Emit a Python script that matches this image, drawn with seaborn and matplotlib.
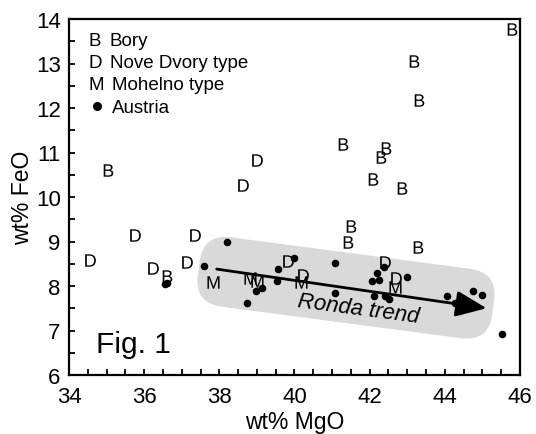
import numpy as np
import pandas as pd
import matplotlib
matplotlib.use('Agg')
import matplotlib.pyplot as plt
import matplotlib.transforms as mtransforms
from matplotlib.patches import FancyBboxPatch
from matplotlib.ticker import MultipleLocator
import seaborn as sns

# Bory (B)
bory_mgo = [45.78, 43.18, 43.31, 41.28, 42.44, 42.30, 42.08, 42.86, 35.04, 36.60, 41.50, 41.42, 43.28]
bory_feo = [13.78, 13.06, 12.18, 11.19, 11.10, 10.90, 10.40, 10.20, 10.60, 8.23, 9.35, 8.98, 8.87]

# Nove Dvory type (D)
dvory_mgo = [38.99, 38.64, 35.76, 37.35, 34.56, 36.24, 37.15, 39.82, 40.23, 42.41, 42.70]
dvory_feo = [10.84, 10.27, 9.15, 9.15, 8.59, 8.40, 8.53, 8.57, 8.25, 8.53, 8.17]

# Mohelno type (M)
mohelno_mgo = [37.84, 38.82, 38.99, 40.17, 42.67]
mohelno_feo = [8.08, 8.17, 8.12, 8.08, 7.97]

# Austria (dots)
austria_mgo = [38.20, 37.59, 39.55, 39.99, 39.53, 39.14, 38.97, 38.73, 36.55, 36.60,
               41.08, 41.08, 42.19, 42.38, 42.05, 42.26, 42.12, 42.41, 42.52, 43.00,
               44.05, 44.27, 44.52, 44.74, 44.98, 45.51]
austria_feo = [9.00, 8.44, 8.38, 8.62, 8.12, 7.95, 7.88, 7.61, 8.04, 8.07,
               8.51, 7.84, 8.29, 8.42, 8.12, 8.13, 7.77, 7.77, 7.71, 8.21,
               7.77, 7.61, 7.71, 7.89, 7.80, 6.92]

# Ronda trend arrow (start, end) and band centre
trend_mgo = [37.93, 45.11]
trend_feo = [8.38, 7.50]
band_center = (41.37, 7.96)

sns.set_theme(style='white')
plt.rcParams['font.family'] = ['Liberation Sans', 'DejaVu Sans']
plt.rcParams['mathtext.fontset'] = 'custom'
plt.rcParams['mathtext.rm'] = 'Liberation Sans'
plt.rcParams['text.color'] = 'black'
plt.rcParams['axes.labelcolor'] = 'black'
plt.rcParams['xtick.color'] = 'black'
plt.rcParams['ytick.color'] = 'black'

fig = plt.figure(figsize=(5.36, 4.35), dpi=100)
ax = fig.add_axes([69 / 536, 1 - 376 / 435, 451 / 536, 356 / 435])
ax.set_xlim(34, 46)
ax.set_ylim(6, 14)

# grey band behind the trend (rounded box, sized in pixels, rotated)
cx, cy = band_center
band_w, band_h = 297, 70
band = FancyBboxPatch((-band_w / 2, -band_h / 2), band_w, band_h,
                      boxstyle='round,pad=0,rounding_size=28',
                      facecolor='#d9d9d9', edgecolor='none', zorder=0)
band.set_transform(mtransforms.Affine2D().rotate_deg(-7.5)
                   + mtransforms.ScaledTranslation(cx, cy, ax.transData))
ax.add_patch(band)

frames = [
    pd.DataFrame({'MgO': bory_mgo, 'FeO': bory_feo}),
    pd.DataFrame({'MgO': dvory_mgo, 'FeO': dvory_feo}),
    pd.DataFrame({'MgO': mohelno_mgo, 'FeO': mohelno_feo}),
]
for df, mk in zip(frames, [r'$\mathrm{B}$', r'$\mathrm{D}$', r'$\mathrm{M}$']):
    sns.scatterplot(data=df, x='MgO', y='FeO', marker=mk, s=80, color='black',
                    linewidth=0, ax=ax, zorder=3)

austria = pd.DataFrame({'MgO': austria_mgo, 'FeO': austria_feo})
sns.scatterplot(data=austria, x='MgO', y='FeO', marker='o', s=30, color='black',
                linewidth=0, ax=ax, zorder=4)

# trend arrow
ax.annotate('', xy=(trend_mgo[1], trend_feo[1]), xytext=(trend_mgo[0], trend_feo[0]),
            arrowprops=dict(arrowstyle='-|>,head_length=0.95,head_width=0.4',
                            mutation_scale=20, lw=2, color='black',
                            shrinkA=0, shrinkB=0), zorder=5)
ax.text(41.69, 7.49, 'Ronda trend', fontsize=16, style='italic', rotation=-7.5,
        ha='center', va='center', rotation_mode='anchor', zorder=6)

ax.text(34.72, 6.52, 'Fig. 1', fontsize=21.5, ha='left', va='baseline')

# legend drawn as text
leg_rows = [('B', 'Bory', 0.927, 0.0894), ('D', 'Nove Dvory type', 0.865, 0.0909),
            ('M', 'Mohelno type', 0.803, 0.0947)]
for sym, name, yy, xn in leg_rows:
    ax.text(0.044, yy, sym, fontsize=13.5, transform=ax.transAxes, va='baseline')
    ax.text(xn, yy, name, fontsize=13.5, transform=ax.transAxes, va='baseline')
ax.plot([0.0614], [0.756], 'o', color='black', ms=5.5, transform=ax.transAxes)
ax.text(0.0947, 0.739, 'Austria', fontsize=13.5, transform=ax.transAxes, va='baseline')

ax.set_xlabel('wt% MgO', fontsize=16.5, labelpad=2)
ax.set_ylabel('wt% FeO', fontsize=16.5, labelpad=1)
ax.xaxis.set_major_locator(MultipleLocator(2))
ax.xaxis.set_minor_locator(MultipleLocator(0.5))
ax.yaxis.set_major_locator(MultipleLocator(1))
ax.yaxis.set_minor_locator(MultipleLocator(0.5))
ax.tick_params(which='both', direction='in', length=4, width=1.3, color='black',
               bottom=True, left=True, top=False, right=False)
ax.tick_params(which='major', labelsize=16, labelcolor='black')
ax.tick_params(axis='x', which='major', pad=8)
ax.tick_params(axis='y', which='major', pad=6)
for sp in ax.spines.values():
    sp.set_color('black')
    sp.set_linewidth(1.6)

fig.savefig('out.png', dpi=100, facecolor='white')
